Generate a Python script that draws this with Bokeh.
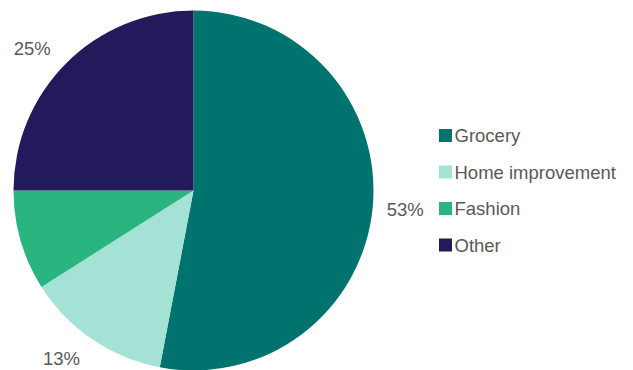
import numpy as np
from bokeh.plotting import figure
from bokeh.models import Range1d, ColumnDataSource
from bokeh.core.properties import value
from bokeh.embed import file_html
from bokeh.resources import INLINE

categories = ["Grocery", "Home improvement", "Fashion", "Other"]
shares = [53, 13, 9, 25]
colors = ["#00736f", "#a4e2d5", "#2ab580", "#231a5c"]
labels = [f"{s}%" for s in shares]

W, H = 633, 370
CX, CY = 193, 180  # center in data coords (y up)
R = 180

p = figure(width=W, height=H, x_range=Range1d(0, W), y_range=Range1d(0, H),
           output_backend="svg", toolbar_location=None,
           x_axis_type=None, y_axis_type=None, min_border=0)
p.outline_line_color = None
p.grid.visible = False

frac = np.array(shares, dtype=float) / sum(shares)
cum = np.concatenate([[0], np.cumsum(frac)])
start = np.pi / 2 - 2 * np.pi * cum[:-1]
end = np.pi / 2 - 2 * np.pi * cum[1:]
src = ColumnDataSource(dict(start=start, end=end, color=colors, cat=categories))
p.wedge(x=CX, y=CY, radius=R, start_angle="start", end_angle="end",
        direction="clock", fill_color="color", line_color=None, source=src)

mid = (start + end) / 2
right = np.cos(mid) >= 0
lr = np.where(right, 194, 202)
lx = CX + lr * np.cos(mid)
ly = CY + lr * np.sin(mid) - 1
align = ["left" if r else "right" for r in right]
lsrc = ColumnDataSource(dict(x=lx, y=ly, t=labels, a=align))
p.text(x="x", y="y", text="t", text_align="a", text_baseline="middle",
       text_font=value("Liberation Sans"), text_font_size="18.5px",
       text_color="#595959", source=lsrc)

# legend
n = len(categories)
ly0 = H - 135
step = 36.5
leg_y = [ly0 - i * step for i in range(n)]
lg = ColumnDataSource(dict(x=[445] * n, y=leg_y, tx=[454] * n, cat=categories, color=colors))
p.rect(x="x", y="y", width=13, height=13, fill_color="color", line_color=None, source=lg)
p.text(x="tx", y="y", text="cat", text_align="left", text_baseline="middle",
       text_font=value("Liberation Sans"), text_font_size="18.5px",
       text_color="#595959", source=lg)

open("out.html", "w").write(file_html(p, INLINE))
